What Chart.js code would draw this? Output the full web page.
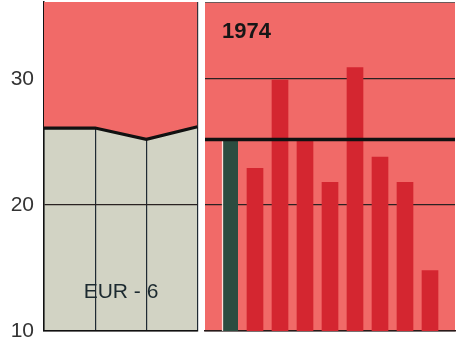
<!DOCTYPE html>
<html>
<head>
<meta charset="utf-8">
<script src="https://cdn.jsdelivr.net/npm/chart.js@4"></script>
<style>
  body { margin: 0; background: #fff; }
  #wrap { position: relative; width: 460px; height: 346px; }
  #left { position: absolute; left: 0; top: 0; }
  #right { position: absolute; left: 200px; top: 0; }
</style>
</head>
<body>
<div id="wrap">
  <canvas id="left" width="200" height="346"></canvas>
  <canvas id="right" width="260" height="346"></canvas>
</div>
<script>
// EUR-6 trend (left panel), 4 points
var eurTrend = [26.1, 26.1, 25.2, 26.2];
var eurLabel = "EUR - 6";

// 1974 panel: first bar is EUR-6, then the member bars
var year = "1974";
var barValues = [25.2, 22.9, 29.9, 25.1, 21.8, 30.9, 23.8, 21.8, 14.8];
var refLevel = 25.2;

var yTicks = [10, 20, 30];
var yMin = 10, yMax = 36.1;

var RED = "rgb(241,106,104)";
var BAR = "rgb(212,38,48)";
var GREEN = "rgb(44,76,64)";
var GREY = "rgb(210,211,196)";
var FONT = "'Liberation Sans', Arial, sans-serif";

function keepTicks(scale) {
  scale.ticks = yTicks.map(function (v) { return { value: v }; });
}

function panelBg(color) {
  return {
    id: 'panelBg',
    beforeDraw: function (chart) {
      var a = chart.chartArea, c = chart.ctx;
      c.save();
      c.fillStyle = color;
      c.fillRect(a.left, a.top, a.right - a.left, a.bottom - a.top);
      c.strokeStyle = "#6b5a5a";
      c.lineWidth = 1;
      c.beginPath();
      c.moveTo(a.left, a.top + 0.5);
      c.lineTo(a.right, a.top + 0.5);
      c.stroke();
      c.restore();
    }
  };
}

function textLabel(text, font, color, align, dx, y) {
  return {
    id: 'textLabel',
    afterDraw: function (chart) {
      var a = chart.chartArea, c = chart.ctx;
      c.save();
      c.font = font;
      c.fillStyle = color;
      c.textAlign = align;
      c.textBaseline = 'alphabetic';
      c.fillText(text, a.left + dx, y);
      c.restore();
    }
  };
}

var yCommon = {
  min: yMin,
  max: yMax,
  z: 1,
  afterBuildTicks: keepTicks,
  grid: { color: "#2a2222", lineWidth: 1.3, drawTicks: false }
};

new Chart('left', {
  type: 'line',
  data: {
    datasets: [{
      data: eurTrend.map(function (v, i) { return { x: i, y: v }; }),
      borderColor: "#111",
      borderWidth: 3.2,
      backgroundColor: RED,
      fill: 'end',
      tension: 0,
      pointRadius: 0
    }]
  },
  options: {
    responsive: false,
    animation: false,
    layout: { padding: { top: 2, right: 2.5, bottom: 15, left: 0 } },
    plugins: { legend: { display: false }, tooltip: { enabled: false } },
    scales: {
      x: {
        type: 'linear',
        min: 0,
        max: eurTrend.length - 1,
        ticks: { display: false, stepSize: 1 },
        grid: { color: "#1f2a33", lineWidth: 1.2, drawTicks: false },
        border: { color: "#111", width: 1.5 },
        afterFit: function (s) { s.height = 0; }
      },
      y: Object.assign({}, yCommon, {
        border: { color: "#111", width: 1.5 },
        ticks: { padding: 10, color: "#333", font: { family: FONT, size: 21 } },
        afterFit: function (s) { s.width = 44; s.paddingTop = 0; s.paddingBottom = 0; }
      })
    }
  },
  plugins: [panelBg(GREY), textLabel(eurLabel, "21px " + FONT, "#1c2a30", 'center', 77, 298)]
});

new Chart('right', {
  type: 'bar',
  data: {
    datasets: [{
      type: 'line',
      order: 0,
      data: [{ x: 0, y: refLevel }, { x: barValues.length + 1, y: refLevel }],
      borderColor: "#111",
      borderWidth: 3.5,
      pointRadius: 0
    }, {
      order: 1,
      data: barValues.map(function (v, i) { return { x: i + 1, y: v }; }),
      backgroundColor: barValues.map(function (v, i) { return i === 0 ? GREEN : BAR; }),
      borderColor: "rgba(255,240,235,0.9)",
      borderWidth: function (ctx) {
        return ctx.dataIndex === 0 ? { left: 1.5, right: 0, top: 0, bottom: 0 } : 0;
      },
      borderSkipped: false,
      barThickness: 16,
      grouped: false
    }]
  },
  options: {
    responsive: false,
    animation: false,
    layout: { padding: { top: 2, right: 5, bottom: 15, left: 5 } },
    plugins: { legend: { display: false }, tooltip: { enabled: false } },
    scales: {
      x: {
        type: 'linear',
        offset: false,
        min: 0,
        max: barValues.length + 1,
        ticks: { display: false },
        grid: { display: false },
        border: { color: "#2a1a1a", width: 1.5 },
        afterFit: function (s) { s.height = 0; }
      },
      y: Object.assign({}, yCommon, {
        border: { display: false },
        ticks: { display: false },
        afterFit: function (s) { s.width = 0; s.paddingTop = 0; s.paddingBottom = 0; }
      })
    }
  },
  plugins: [panelBg(RED), textLabel(year, "bold 22px " + FONT, "#161616", 'left', 17, 38)]
});
</script>
</body>
</html>
